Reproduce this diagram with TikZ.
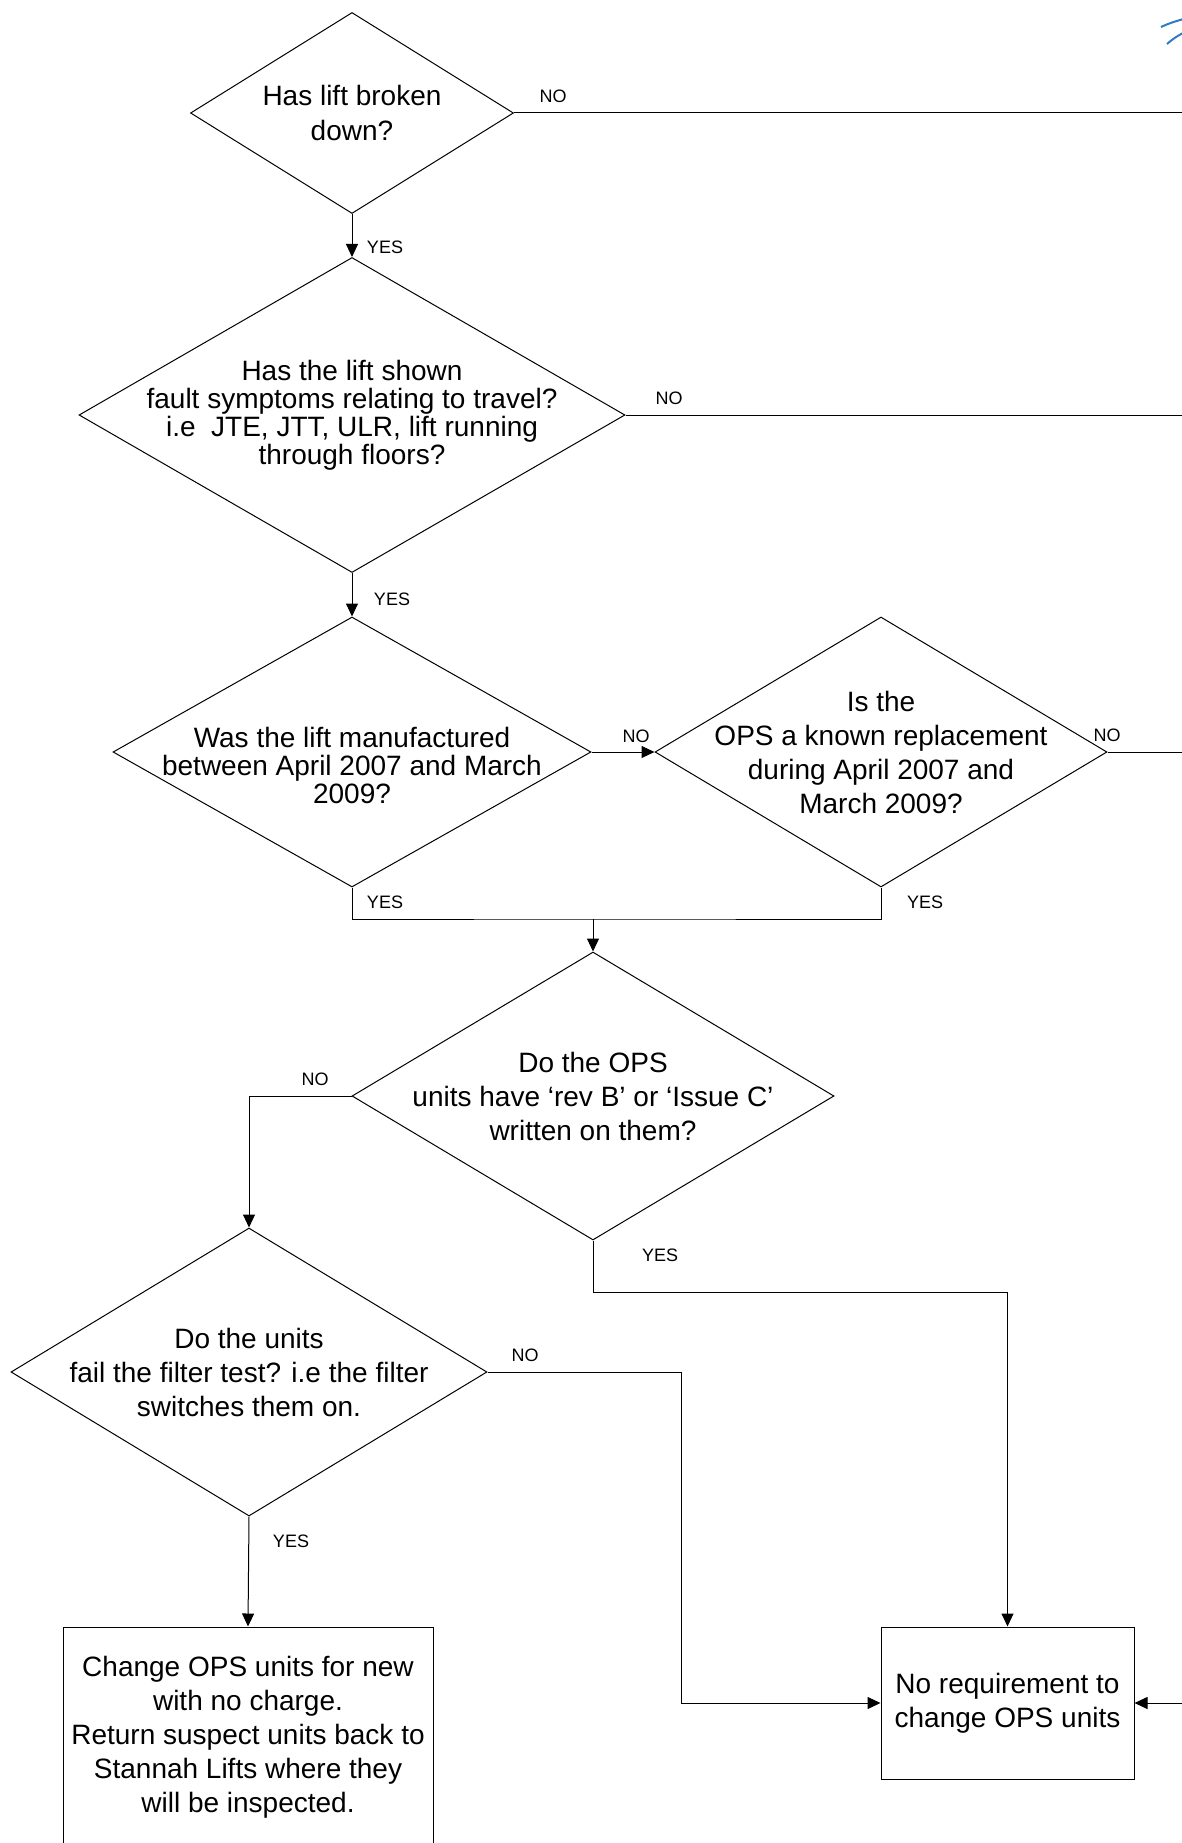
\documentclass[tikz,border=0pt]{standalone}
\usepackage{fontspec}
\setmainfont{Liberation Sans}
\usetikzlibrary{shapes.geometric,arrows.meta}
\definecolor{logoblue}{RGB}{46,125,196}
\begin{document}
\begin{tikzpicture}[x=1pt,y=-1pt,
    decision/.style={diamond,draw,line width=1pt,inner sep=0pt},
    qtext/.style={align=center,inner sep=0pt,font=\fontsize{28}{34}\selectfont},
    action/.style={rectangle,draw,line width=1pt,inner sep=0pt,align=center,font=\fontsize{28}{34}\selectfont},
    tag/.style={inner sep=0pt,font=\fontsize{18}{20}\selectfont},
    link/.style={line width=1pt},
    arr/.style={link,-{Triangle[length=13pt,width=12pt]}}]
  \useasboundingbox (0,0) rectangle (1182,1843);
  \clip (0,0) rectangle (1182,1843);
  % questions
  \node[decision,minimum width=323pt,minimum height=201pt,
    label={[qtext,font=\fontsize{28}{35}\selectfont]center:{Has lift broken\\down?}}] (q1) at (352,113) {};
  \node[decision,minimum width=546pt,minimum height=315pt,
    label={[qtext,font=\fontsize{28}{28}\selectfont]center:{Has the lift shown\\fault symptoms relating to travel?\\i.e~ JTE, JTT, ULR, lift running\\through floors?}}] (q2) at (352,415) {};
  \node[decision,minimum width=478pt,minimum height=270pt,
    label={[qtext,font=\fontsize{28}{28}\selectfont,yshift=-13pt]center:{Was the lift manufactured\\between April 2007 and March\\2009?}}] (q3) at (352,752) {};
  \node[decision,minimum width=452pt,minimum height=270pt,
    label={[qtext]center:{Is the\\OPS a known replacement\\during April 2007 and\\March 2009?}}] (q4) at (881,752) {};
  \node[decision,minimum width=482pt,minimum height=288pt,
    label={[qtext]center:{Do the OPS\\units have ‘rev B’ or ‘Issue C’\\written on them?}}] (q5) at (593,1096) {};
  \node[decision,minimum width=476pt,minimum height=288pt,
    label={[qtext]center:{Do the units\\fail the filter test? i.e the filter\\switches them on.}}] (q6) at (249,1372) {};
  % outcomes
  \node[action,minimum width=370pt,minimum height=220pt] (act1) at (248,1737)
    {Change OPS units for new\\with no charge.\\Return suspect units back to\\Stannah Lifts where they\\will be inspected.};
  \node[action,minimum width=253pt,minimum height=152pt] (act2) at (1007.5,1703)
    {No requirement to\\change OPS units};
  % off-page ends
  \coordinate (r1) at (1195,113);
  \coordinate (r2) at (1195,415);
  \coordinate (r3) at (1195,752);
  \coordinate (r4) at (1195,1703);
  \coordinate (m) at (593,919);
  % connectors
  \draw[link] (q1.east) -- (r1);
  \draw[arr] (q1.south) -- (q2.north);
  \draw[link] (q2.east) -- (r2);
  \draw[arr] (q2.south) -- (q3.north);
  \draw[arr] (q3.east) -- (q4.west);
  \draw[link] (q4.east) -- (r3);
  \draw[link] (q3.south) |- (m) -| (q4.south);
  \draw[arr] (m) -- (q5.north);
  \draw[arr] (q5.west) -| (q6.north);
  \draw[arr] (q5.south) -- ++(0,52) -| (act2.north);
  \draw[arr] (q6.east) -- ++(194,0) |- (act2.west);
  \draw[arr] (q6.south) -- (act1.north);
  \draw[arr] (r4) -- (act2.east);
  % yes / no
  \node[tag] (n1) at (553,96) {NO};
  \node[tag] (y1) at (385,247) {YES};
  \node[tag] (n2) at (669,398) {NO};
  \node[tag] (y2) at (392,599) {YES};
  \node[tag] (n3) at (636,736) {NO};
  \node[tag] (n4) at (1107,735) {NO};
  \node[tag] (y3) at (385,902) {YES};
  \node[tag] (y4) at (925,902) {YES};
  \node[tag] (n5) at (315,1079) {NO};
  \node[tag] (y5) at (660,1255) {YES};
  \node[tag] (n6) at (525,1355) {NO};
  \node[tag] (y6) at (291,1541) {YES};
  % logo fragment
  \draw[logoblue,line width=2pt] (1161,27) .. controls (1170,23) .. (1190,17);
  \draw[logoblue,line width=2pt] (1167,44) .. controls (1174,38) .. (1190,29);
\end{tikzpicture}
\end{document}
